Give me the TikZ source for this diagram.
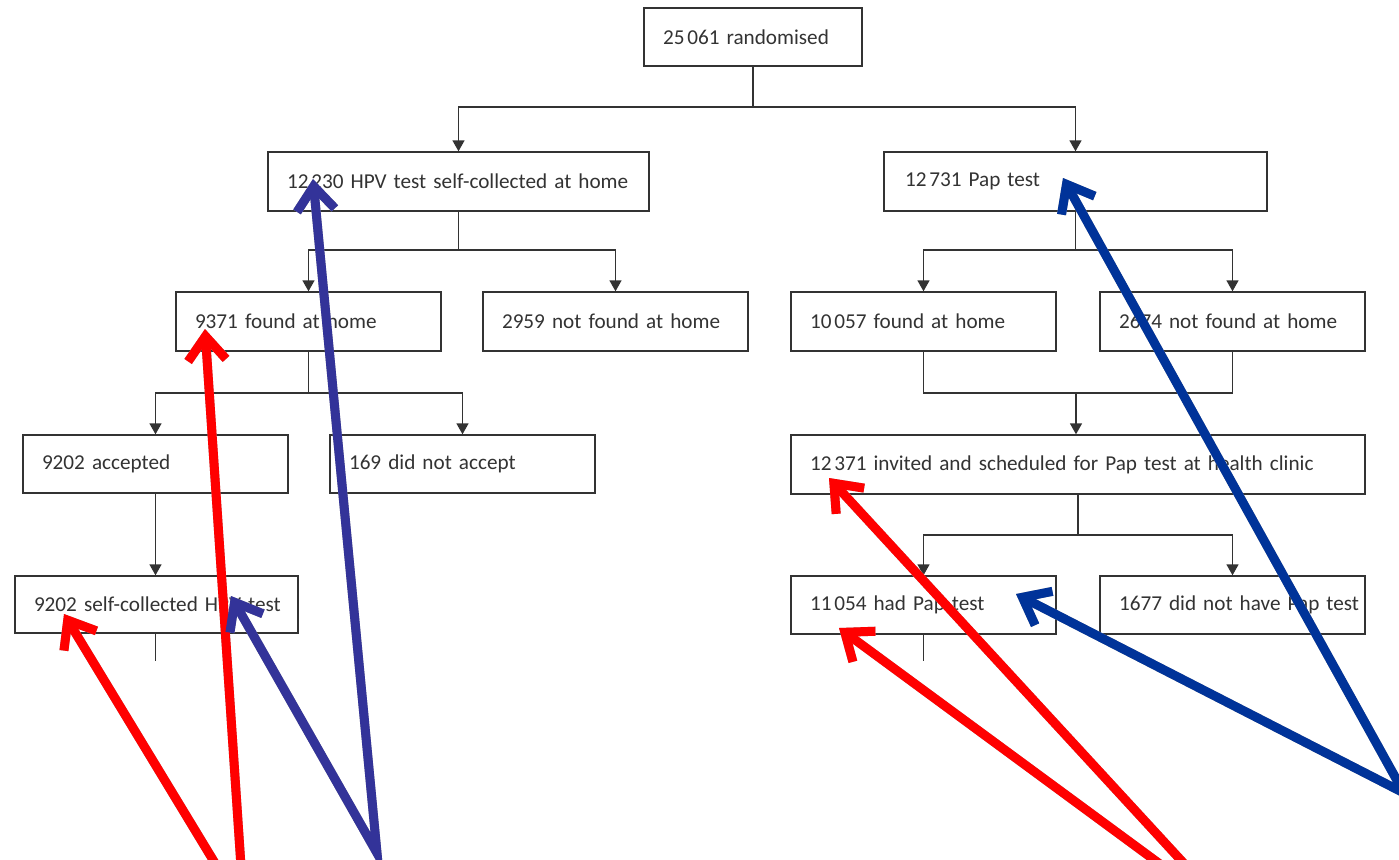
\documentclass[tikz,border=0pt]{standalone}
\usepackage{fontspec}
\setmainfont{Carlito}
\usetikzlibrary{arrows.meta}
\definecolor{txt}{HTML}{333333}
\definecolor{ln}{HTML}{333333}
\definecolor{annred}{HTML}{FF0000}
\definecolor{annpurple}{HTML}{333399}
\definecolor{annnavy}{HTML}{003399}
\definecolor{shadowgray}{HTML}{A6A6A6}
\newcommand\myboxfont{\fontsize{10.6}{12.5}\selectfont}
\newcommand\numsep{\kern1.4pt\relax}
\tikzset{
  box/.style={draw=ln, line width=0.7pt, minimum height=29.5pt, inner xsep=9.5pt,
    inner ysep=0pt, align=left, text=txt, font=\myboxfont},
  w218/.style={text width=90pt},
  w381/.style={text width=171.5pt},
  w383/.style={text width=172.5pt},
  w265/.style={text width=113.5pt},
  w574/.style={text width=268pt},
  w283/.style={text width=122.5pt},
  conn/.style={draw=ln, line width=0.75pt},
  arr/.style={conn, -{Triangle[length=5.5pt,width=6pt]}},
  ann/.style={line width=4.5pt, line join=miter},
  tipend/.style={-{Straight Barb[length=12pt,width=19pt]}},
  tipboth/.style={{Straight Barb[length=12pt,width=19pt]}-{Straight Barb[length=12pt,width=19pt]}},
}
\begin{document}
\begin{tikzpicture}[x=0.5pt,y=-0.5pt]
\useasboundingbox (0,0) rectangle (1399,859);
\clip (0,0) rectangle (1399,859);
\fill[white] (0,0) rectangle (1399,859);

% boxes
\node[box,w218,minimum height=29pt] (R) at (753,37) {25\numsep061 randomised};
\node[box,w381] (H) at (458.5,181.5) {\mbox{12\numsep230 HPV test self-collected at home}};
\node[box,w383,inner xsep=10.5pt,text width=170.5pt] (P) at (1075.5,181.5) {12\numsep731 Pap test};
\node[box,w265] (F1) at (308.5,321.5) {9371 found at home};
\node[box,w265] (NF1) at (615.5,321.5) {2959 not found at home};
\node[box,w265] (F2) at (923.5,321.5) {10\numsep057 found at home};
\node[box,w265] (NF2) at (1232.5,321.5) {2674 not found at home};
\node[box,w265,minimum height=29pt] (A) at (155.5,464) {9202 accepted};
\node[box,w265,minimum height=29pt] (DNA) at (462.5,464) {169 did not accept};
\node[box,w574] (I) at (1078,464.5) {\mbox{12\numsep371 invited and scheduled for Pap test at health clinic}};
\node[box,w283,minimum height=28.5pt] (S) at (156.5,604.5) {\mbox{9202 self-collected HPV test}};
\node[box,w265,minimum height=29pt] (HP) at (923.5,605) {11\numsep054 had Pap test};
\node[box,w265,minimum height=29pt] (DN) at (1232.5,605) {\mbox{1677 did not have Pap test}};

% connectors
\coordinate (j1) at (753,107);
\draw[conn] (R.south) -- (j1);
\draw[arr] (j1) -| (H);
\draw[arr] (j1) -| (P);

\coordinate (j2) at (458.5,250);
\draw[conn] (H.south) -- (j2);
\draw[arr] (j2) -| (F1);
\draw[arr] (j2) -| (NF1);

\coordinate (j3) at (1075.5,250);
\draw[conn] (P.south) -- (j3);
\draw[arr] (j3) -| (F2);
\draw[arr] (j3) -| (NF2);

\coordinate (j4) at (308.5,393);
\draw[conn] (F1.south) -- (j4);
\draw[arr] (j4) -| (A);
\draw[arr] (j4) -| (DNA);

\coordinate (j5) at (1076,393);
\draw[conn] (F2.south) |- (j5);
\draw[conn] (NF2.south) |- (j5);
\draw[arr] (j5) -- (j5 |- I.north);

\draw[arr] (A.south) -- (A.south |- S.north);

\coordinate (j6) at (1078,535);
\draw[conn] (I.south) -- (j6);
\draw[arr] (j6) -| (HP);
\draw[arr] (j6) -| (DN);

\coordinate (s0) at (155.5,661);
\draw[conn] (S.south -| s0) -- (s0);
\coordinate (h0) at (923.5,661);
\draw[conn] (HP.south) -- (h0);

% annotation arrows
\coordinate (oL) at (244,911);
\coordinate (tF1) at (205,329);
\coordinate (tS) at (64,614);
\coordinate (oP) at (377,853);
\coordinate (tH) at (313,179);
\coordinate (tS2) at (231,596);
\coordinate (oR) at (1236,920);
\coordinate (tI) at (829,478);
\coordinate (tHP) at (839,628);
\coordinate (oB) at (1404,793);
\coordinate (tP) at (1063,178);
\coordinate (tHP2) at (1016,594);

\begin{scope}[shift={(3,3)}]
  \draw[ann,shadowgray,tipend] (oL) -- (tF1);
  \draw[ann,shadowgray,tipend] (oL) -- (tS);
  \draw[ann,shadowgray,tipboth] (tH) -- (oP) -- (tS2);
  \draw[ann,shadowgray,tipend] (oR) -- (tI);
  \draw[ann,shadowgray,tipend] (oR) -- (tHP);
  \draw[ann,shadowgray,tipend] (oB) -- (tP);
  \draw[ann,shadowgray,tipend] (oB) -- (tHP2);
\end{scope}
\draw[ann,annred,tipend] (oL) -- (tF1);
\draw[ann,annred,tipend] (oL) -- (tS);
\draw[ann,annpurple,tipboth] (tH) -- (oP) -- (tS2);
\draw[ann,annred,tipend] (oR) -- (tI);
\draw[ann,annred,tipend] (oR) -- (tHP);
\draw[ann,annnavy,tipend] (oB) -- (tP);
\draw[ann,annnavy,tipend] (oB) -- (tHP2);
\end{tikzpicture}
\end{document}
